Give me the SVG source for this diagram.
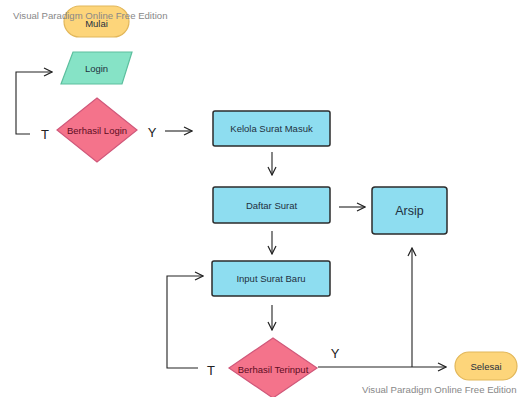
<svg xmlns="http://www.w3.org/2000/svg" width="518" height="397" viewBox="0 0 518 397">
<defs>
<marker id="ah" markerWidth="10" markerHeight="10" refX="9" refY="5" orient="auto" markerUnits="userSpaceOnUse">
<path d="M1,1 L9,5 L1,9" fill="none" stroke="#222" stroke-width="1.2"/>
</marker>
<style>
.t{font-family:"Liberation Sans",Arial,sans-serif;text-anchor:middle;dominant-baseline:central}
.wm{font-family:"Liberation Sans",Arial,sans-serif;font-size:9.6px;fill:#888}
.term{fill:#FDD57A;stroke:#E2B75A;stroke-width:1.2}
.io{fill:#86E3C6;stroke:#5CBF9E;stroke-width:1.2}
.dec{fill:#F4738B;stroke:#D0587A;stroke-width:1.2}
.box{fill:#8EDDF0;stroke:#2b2b2b;stroke-width:1.5}
.bt{font-size:9.5px;fill:#1f3040}
.dt{font-size:9.5px;fill:#5e0c22}
.lbl{font-size:13px;fill:#222}
.c{fill:none;stroke:#222;stroke-width:1.1}
</style>
</defs>
<rect width="518" height="397" fill="#fff"/>
<g id="connectors">
<path class="c" d="M30,134 H16 V72 H52" marker-end="url(#ah)"/>
<path class="c" d="M165,131 H192" marker-end="url(#ah)"/>
<path class="c" d="M272,152 V175" marker-end="url(#ah)"/>
<path class="c" d="M339,207 H365" marker-end="url(#ah)"/>
<path class="c" d="M272,231 V254" marker-end="url(#ah)"/>
<path class="c" d="M272,305 V330" marker-end="url(#ah)"/>
<path class="c" d="M198,368 H167 V276 H203" marker-end="url(#ah)"/>
<path class="c" d="M318,367 H446" marker-end="url(#ah)"/>
<path class="c" d="M412,367 V248" marker-end="url(#ah)"/>
</g>
<g id="mulai">
<rect class="term" x="64" y="6" width="65" height="31" rx="15.5"/>
<text class="t bt" x="96.5" y="23">Mulai</text>
</g>
<g id="login">
<polygon class="io" points="73,52 132,52 122,84 61,84"/>
<text class="t bt" x="96.5" y="68">Login</text>
</g>
<g id="berhasil-login">
<polygon class="dec" points="97,98 137,130 97,162 57,130"/>
<text class="t dt" x="97" y="130">Berhasil Login</text>
</g>
<text class="t lbl" x="45" y="134">T</text>
<text class="t lbl" x="152" y="132">Y</text>
<g id="kelola">
<rect class="box" x="213" y="111" width="117" height="35" rx="2"/>
<text class="t bt" x="271.5" y="128.5">Kelola Surat Masuk</text>
</g>
<g id="daftar">
<rect class="box" x="213" y="187" width="117" height="36" rx="2"/>
<text class="t bt" x="271.5" y="205">Daftar Surat</text>
</g>
<g id="arsip">
<rect class="box" x="372" y="187" width="75" height="47" rx="3"/>
<text class="t" x="409.5" y="211" font-size="12.5" fill="#1f3040">Arsip</text>
</g>
<g id="input">
<rect class="box" x="212" y="261" width="118" height="35" rx="2"/>
<text class="t bt" x="271" y="278.5">Input Surat Baru</text>
</g>
<g id="berhasil-terinput">
<polygon class="dec" points="273,338 317,368 273,398 229,368"/>
<text class="t dt" x="273" y="369">Berhasil Terinput</text>
</g>
<text class="t lbl" x="211" y="370">T</text>
<text class="t lbl" x="335" y="353">Y</text>
<g id="selesai">
<rect class="term" x="455" y="352" width="62" height="28" rx="14"/>
<text class="t bt" x="486" y="366">Selesai</text>
</g>
<text class="wm" x="13" y="19">Visual Paradigm Online Free Edition</text>
<text class="wm" x="362" y="393">Visual Paradigm Online Free Edition</text>
</svg>
